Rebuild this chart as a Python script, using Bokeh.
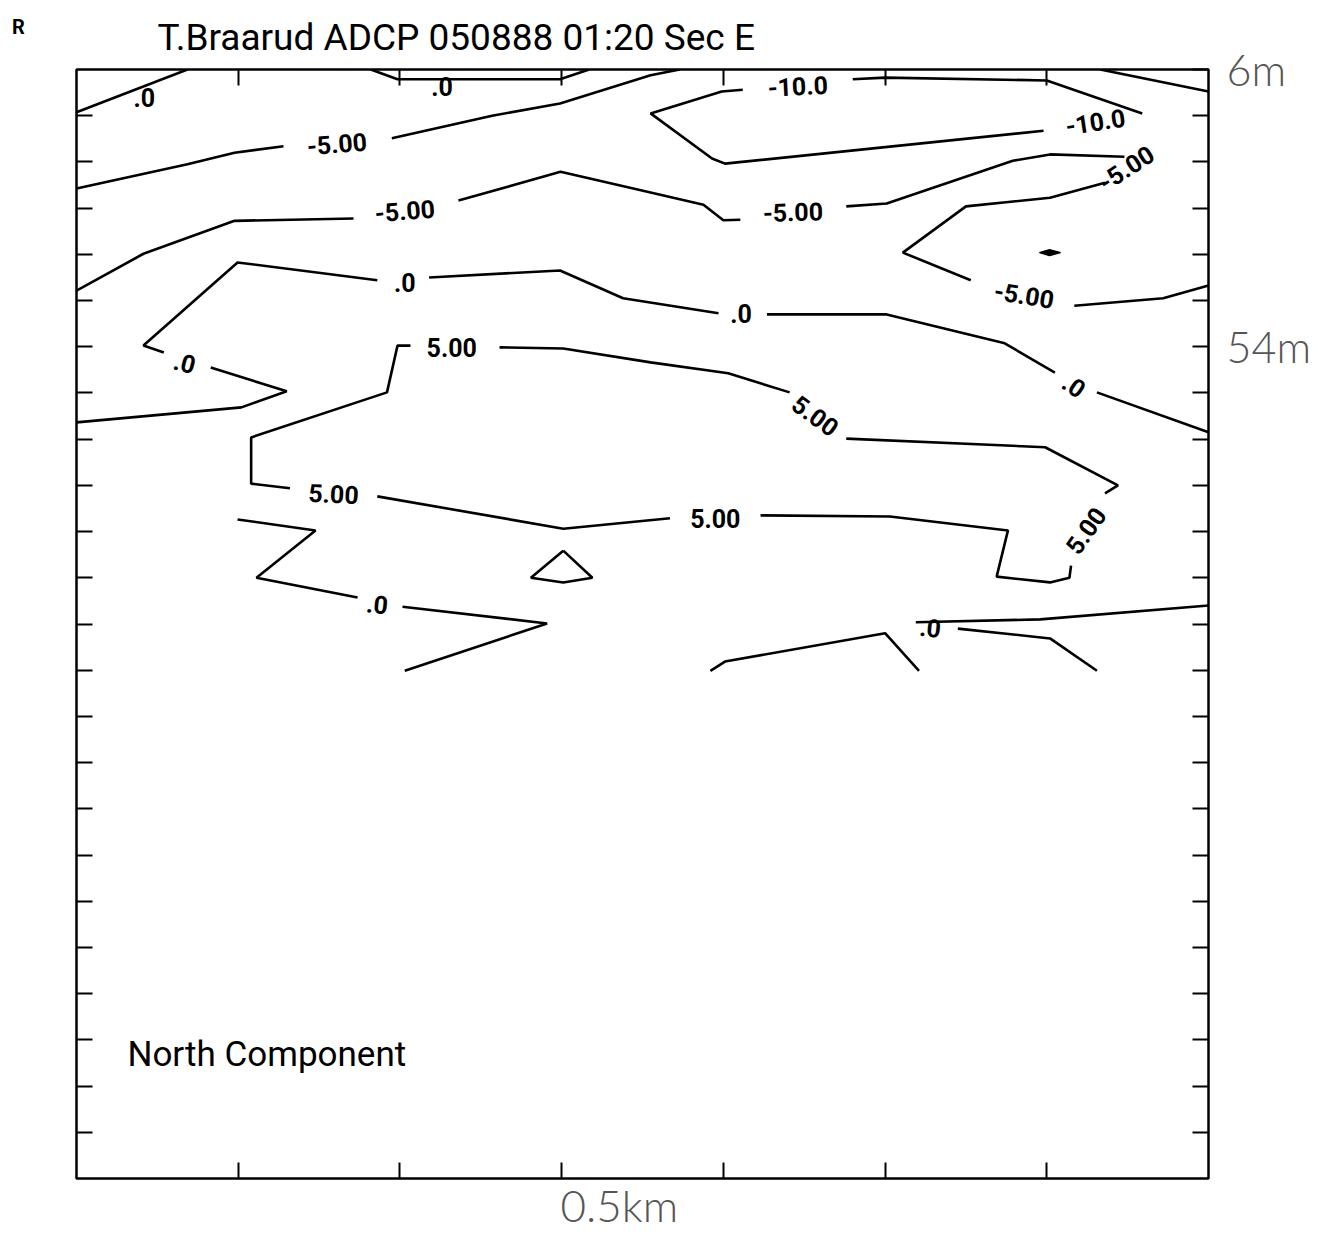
from bokeh.plotting import figure
from bokeh.models import Range1d, LinearAxis, FixedTicker, Label, Title, ColumnDataSource
from bokeh.core.properties import value
from bokeh.embed import file_html
from bokeh.resources import INLINE

# ---- axes (x: station index along the section, y: depth in metres) ----
x_ticks = [1, 2, 3, 4, 5, 6]
depth_ticks = [14, 22, 30, 38, 46, 54, 62, 70, 78, 86, 94, 102, 110, 118,
               126, 134, 142, 150, 158, 166, 174, 182, 190]
depth_marks = {6: "6m", 54: "54m"}
title_text = "T.Braarud ADCP 050888 01:20 Sec E"
panel_text = "North Component"
distance_text = "0.5km"
corner_text = "R"

# ---- contour level -10 (pieces between label gaps) ----
m10_a_x = [6.33, 7.00];                           m10_a_d = [6.0, 9.8]
m10_b_x = [6.59, 6.00, 5.00, 4.80];               m10_b_d = [13.6, 7.9, 7.4, 7.7]
m10_c_x = [4.12, 3.99, 3.55, 3.93, 4.01, 5.98];   m10_c_d = [9.5, 9.8, 13.6, 21.4, 22.3, 16.6]

# ---- contour level -5 ----
m5_a_x = [0.0, 0.686, 0.977, 1.28];               m5_a_d = [26.6, 22.4, 20.4, 19.3]
m5_b_x = [1.95, 2.57, 2.99, 3.55, 3.73];          m5_b_d = [17.9, 14.0, 11.9, 7.0, 6.0]
m5_c_x = [0.0, 0.414, 0.977, 1.713];              m5_c_d = [44.3, 37.9, 32.2, 31.8]
m5_d_x = [2.362, 2.993, 3.55, 3.877, 4.0, 4.105]; m5_d_d = [28.7, 23.7, 27.3, 29.4, 32.1, 32.0]
m5_e_x = [4.76, 5.01, 5.79, 6.02, 6.48];          m5_e_d = [29.7, 29.2, 21.8, 20.7, 21.1]
m5_f_x = [6.36, 6.02, 5.50, 5.11, 5.53];          m5_f_d = [25.6, 28.2, 29.7, 37.7, 42.5]
m5_g_x = [6.17, 6.72, 7.0];                       m5_g_d = [46.9, 45.6, 43.4]
m5_dot_x = [5.955, 6.017, 6.085, 6.017];          m5_dot_d = [37.7, 37.2, 37.7, 38.2]

# ---- contour level 0 ----
z_a_x = [0.0, 0.686];                  z_a_d = [13.4, 6.0]
z_b_x = [1.82, 1.985, 2.99, 3.17];     z_b_d = [6.0, 7.7, 7.7, 6.0]
z_c_x = [0.0, 1.02, 1.30, 0.83];       z_c_d = [67.1, 64.5, 61.7, 57.6]
z_d_x = [0.54, 0.414, 0.996, 1.86];    z_d_d = [55.0, 53.8, 39.4, 42.5]
z_e_x = [2.18, 2.99, 3.38, 3.97];      z_e_d = [42.0, 40.8, 45.6, 48.2]
z_f_x = [4.27, 5.01, 5.74, 6.05];      z_f_d = [48.4, 48.4, 53.4, 58.5]
z_g_x = [6.31, 7.0];                   z_g_d = [61.9, 68.8]
z_h_x = [0.996, 1.478, 1.113, 1.738];  z_h_d = [83.9, 85.8, 94.0, 97.4]
z_i_x = [2.016, 2.91, 2.03];           z_i_d = [99.0, 101.9, 110.1]
z_j_x = [5.19, 5.96, 7.0];             z_j_d = [101.7, 101.2, 98.8]
z_k_x = [5.45, 6.02, 6.31];            z_k_d = [102.8, 104.5, 110.1]
z_l_x = [3.92, 4.01, 5.0, 5.21];       z_l_d = [110.1, 108.5, 103.6, 110.1]

# ---- contour level 5 ----
p5_a_x = [2.616, 3.01, 3.55, 4.03, 4.41];              p5_a_d = [54.1, 54.3, 56.7, 58.6, 61.9]
p5_b_x = [4.76, 5.99, 6.44, 6.36];                     p5_b_d = [69.9, 71.4, 78.0, 79.4]
p5_c_x = [6.15, 6.14, 6.02, 5.69, 5.76, 5.03, 4.23];   p5_c_d = [91.9, 94.0, 94.8, 93.8, 85.8, 83.4, 83.2]
p5_d_x = [3.67, 3.01, 1.86];                           p5_d_d = [83.7, 85.5, 79.9]
p5_e_x = [1.32, 1.08, 1.08, 1.92, 1.985, 2.065];       p5_e_d = [78.5, 77.7, 69.7, 61.9, 53.8, 53.8]
p5_tri_x = [3.01, 3.19, 3.01, 2.81, 3.01];             p5_tri_d = [89.3, 94.0, 94.8, 94.0, 89.3]

# ---- contour labels ----
lab_text = [".0", ".0", "-10.0", "-10.0", "-5.00", "-5.00", "-5.00", "-5.00", "-5.00",
            ".0", ".0", ".0", ".0", "5.00", "5.00", "5.00", "5.00", "5.00", ".0", ".0"]
lab_x = [0.42, 2.26, 4.46, 6.30, 1.61, 2.03, 4.43, 6.49, 5.86,
         2.03, 0.67, 4.11, 6.17, 2.32, 4.57, 6.24, 3.95, 1.59, 1.86, 5.28]
lab_d = [10.8, 8.9, 8.8, 15.0, 18.8, 30.4, 30.6, 23.0, 45.0,
         42.9, 56.7, 48.2, 60.7, 54.1, 65.9, 85.8, 83.7, 79.4, 98.5, 102.6]
lab_angle = [0.0, 0.0, 0.05, 0.15, 0.08, 0.08, 0.03, 0.58, -0.16,
             0.0, -0.25, 0.0, -0.6, 0.0, -0.63, 0.95, 0.0, -0.05, -0.1, -0.1]

SANS = "Roboto"
LIGHT = "Lato Light, sans-serif"

p = figure(frame_width=1132, frame_height=1109,
           x_range=Range1d(0, 7), y_range=Range1d(198, 6),
           output_backend="svg", toolbar_location=None,
           x_axis_location=None, y_axis_location=None,
           min_border_left=76, min_border_right=126,
           min_border_top=69, min_border_bottom=57)
p.grid.visible = False
p.outline_line_color = "black"
p.outline_line_width = 2.5
p.background_fill_color = "white"
p.border_fill_color = "white"


def make_axis(ticks):
    ax = LinearAxis(ticker=FixedTicker(ticks=ticks))
    ax.major_tick_in = 16
    ax.major_tick_out = 0
    ax.minor_tick_line_color = None
    ax.axis_line_color = None
    ax.major_tick_line_color = "black"
    ax.major_tick_line_width = 2
    ax.major_label_text_font_size = "1px"
    ax.major_label_text_color = None
    ax.major_label_standoff = 0
    return ax


p.add_layout(make_axis(x_ticks), "below")
p.add_layout(make_axis(x_ticks), "above")
p.add_layout(make_axis(depth_ticks), "left")

right_axis = make_axis([6] + depth_ticks)
right_axis.major_label_overrides = {t: depth_marks.get(t, "") for t in [6] + depth_ticks}
right_axis.major_label_text_font = LIGHT
right_axis.major_label_text_font_size = "43px"
right_axis.major_label_text_color = "#555555"
right_axis.major_label_standoff = 18
p.add_layout(right_axis, "right")

# small corner mark, living in the left panel just outside the frame
p.add_layout(Label(x=-45, y=1152, x_units="screen", y_units="screen", text=corner_text,
                   text_font=SANS, text_font_style="bold", text_font_size="20px",
                   text_color="black", text_align="center", text_baseline="middle"), "left")
p.add_layout(Title(text=title_text, align="left", offset=81, standoff=22,
                   text_font=SANS, text_font_size="37px", text_font_style="normal",
                   text_color="black", vertical_align="bottom"), "above")
p.add_layout(Title(text=distance_text, align="left", offset=484, standoff=0,
                   text_font=LIGHT, text_font_size="44px", text_font_style="normal",
                   text_color="#555555", vertical_align="top"), "below")

pieces_x = [m10_a_x, m10_b_x, m10_c_x,
            m5_a_x, m5_b_x, m5_c_x, m5_d_x, m5_e_x, m5_f_x, m5_g_x,
            z_a_x, z_b_x, z_c_x, z_d_x, z_e_x, z_f_x, z_g_x, z_h_x, z_i_x, z_j_x, z_k_x, z_l_x,
            p5_a_x, p5_b_x, p5_c_x, p5_d_x, p5_e_x, p5_tri_x]
pieces_d = [m10_a_d, m10_b_d, m10_c_d,
            m5_a_d, m5_b_d, m5_c_d, m5_d_d, m5_e_d, m5_f_d, m5_g_d,
            z_a_d, z_b_d, z_c_d, z_d_d, z_e_d, z_f_d, z_g_d, z_h_d, z_i_d, z_j_d, z_k_d, z_l_d,
            p5_a_d, p5_b_d, p5_c_d, p5_d_d, p5_e_d, p5_tri_d]

p.multi_line(xs=pieces_x, ys=pieces_d, line_color="black", line_width=2.6)
p.patch(x=m5_dot_x, y=m5_dot_d, fill_color="black", line_color="black", line_width=1.5)

lab_src = ColumnDataSource(dict(x=lab_x, y=lab_d, text=lab_text, angle=lab_angle))
p.text(x="x", y="y", text="text", angle="angle", source=lab_src,
       text_font=value(SANS), text_font_style="bold", text_font_size="25px",
       text_align="center", text_baseline="middle", text_color="black")

p.add_layout(Label(x=0.315, y=176.5, text=panel_text,
                   text_font=SANS, text_font_size="35px", text_color="black",
                   text_align="left", text_baseline="middle"))

open("out.html", "w").write(file_html(p, INLINE))
